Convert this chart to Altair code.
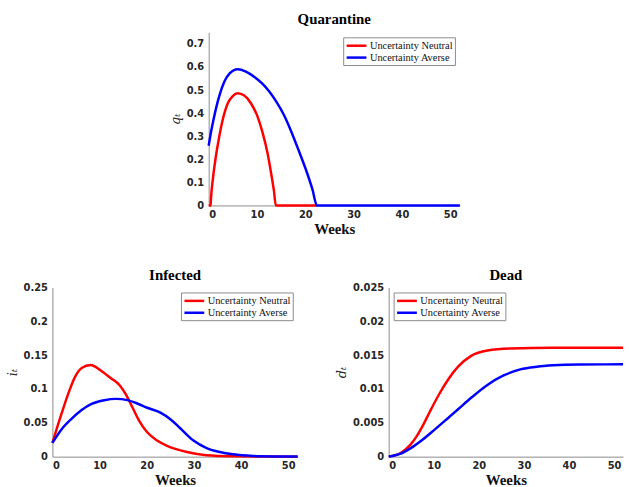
import altair as alt
import pandas as pd

SERIES = ["Uncertainty Neutral", "Uncertainty Averse"]
COLORS = ["#ff0000", "#0000ff"]

# Quarantine q_t
q_weeks_neutral = [0, 0.4, 0.45, 0.9, 1.4, 2.2, 2.9, 3.96, 4.98, 6.0, 7.37, 8.74, 10.1, 11.1, 12.2, 13.0, 13.5, 13.9, 22.4]
q_neutral = [0, 0, 0.02, 0.12, 0.2, 0.30, 0.371, 0.443, 0.474, 0.486, 0.476, 0.443, 0.386, 0.32, 0.225, 0.13, 0.065, 0, 0]
q_weeks_averse = [0, 0.5, 0.9, 1.57, 2.25, 3.28, 4.3, 6.0, 7.7, 9.4, 11.0, 12.5, 14.0, 15.5, 17.0, 18.6, 20.3, 21.5, 22.4, 52]
q_averse = [0.259, 0.32, 0.362, 0.425, 0.478, 0.538, 0.571, 0.590, 0.580, 0.558, 0.530, 0.495, 0.450, 0.395, 0.325, 0.240, 0.145, 0.068, 0, 0]

# Infected i_t
i_weeks_neutral = [0, 2.0, 3.4, 4.8, 6.2, 8.1, 10.3, 12.4, 14.2, 15.6, 17.0, 18.4, 20.1, 22.2, 24.3, 26.4, 28.5, 32.7, 38, 45, 52]
i_neutral = [0.0204, 0.065, 0.094, 0.118, 0.131, 0.1354, 0.127, 0.116, 0.106, 0.0917, 0.0723, 0.0529, 0.036, 0.0238, 0.016, 0.0107, 0.0068, 0.002, 0.0005, 0.0001, 0]
i_weeks_averse = [0, 2.0, 4.1, 6.2, 8.3, 11.0, 13.5, 15.9, 18.0, 20.1, 22.9, 25.0, 27.1, 29.9, 32.7, 35.5, 38.3, 42.5, 47, 52]
i_averse = [0.0204, 0.041, 0.0563, 0.069, 0.078, 0.0835, 0.0854, 0.0835, 0.0786, 0.0723, 0.065, 0.0553, 0.042, 0.0238, 0.0127, 0.0068, 0.0034, 0.001, 0.0003, 0.0001]

# Dead d_t
d_weeks_neutral = [0, 2.55, 4.74, 6.2, 7.66, 9.1, 11.0, 13.2, 15.4, 18.3, 21.9, 27.0, 36.5, 52]
d_neutral = [0, 0.0005, 0.0017, 0.0030, 0.0047, 0.0066, 0.0090, 0.0114, 0.0133, 0.0149, 0.0157, 0.0160, 0.0161, 0.0161]
d_weeks_averse = [0, 2.5, 5.0, 7.5, 10.2, 13.5, 15.4, 18.3, 21.9, 25.5, 29.2, 32.9, 36.5, 42.4, 52]
d_averse = [0, 0.0004, 0.0013, 0.0025, 0.0040, 0.0059, 0.0070, 0.0087, 0.0106, 0.0120, 0.0129, 0.0133, 0.0135, 0.01362, 0.01365]

x_ticks = [0, 10, 20, 30, 40, 50]
q_ticks = [0, 0.1, 0.2, 0.3, 0.4, 0.5, 0.6, 0.7]
i_ticks = [0, 0.05, 0.1, 0.15, 0.2, 0.25]
d_ticks = [0, 0.005, 0.01, 0.015, 0.02, 0.025]

LABEL_FONT = "DejaVu Sans"
SERIF = "Liberation Serif"


def frame(weeks, vals, name):
    return pd.DataFrame({"week": weeks, "value": vals, "series": name})


def panel(title, ytitle, dn, da, ymax, yticks, w, h, orient, title_offset):
    color = alt.Color(
        "series:N",
        scale=alt.Scale(domain=SERIES, range=COLORS),
        legend=alt.Legend(
            title=None, orient=orient, offset=5,
            strokeColor="#8c8c8c", fillColor="white", padding=2,
            labelFont=SERIF, labelFontSize=10.5, labelColor="#111111",
            symbolType="M-1,0H3", symbolSize=100, symbolStrokeWidth=2.5,
            labelOffset=12, rowPadding=-2, labelLimit=300, cornerRadius=0,
        ),
    )

    def line(df):
        return alt.Chart(df).mark_line(strokeWidth=2.5, interpolate="monotone").encode(
            x=alt.X("week:Q", scale=alt.Scale(domain=[0, 52], nice=False, zero=False),
                    axis=alt.Axis(values=x_ticks, title="Weeks", format="d")),
            y=alt.Y("value:Q", scale=alt.Scale(domain=[0, ymax], nice=False),
                    axis=alt.Axis(values=yticks, title=ytitle, format="~g")),
            color=color,
        )

    return alt.layer(line(dn), line(da)).properties(
        width=w, height=h,
        title=alt.TitleParams(title, font=SERIF, fontSize=15, fontWeight="bold", color="black",
                              offset=title_offset),
    )


top = panel("Quarantine", "qₜ",
            frame(q_weeks_neutral, q_neutral, SERIES[0]), frame(q_weeks_averse, q_averse, SERIES[1]),
            0.75, q_ticks, 254, 175, "top-right", 5)
left = panel("Infected", "iₜ",
             frame(i_weeks_neutral, i_neutral, SERIES[0]), frame(i_weeks_averse, i_averse, SERIES[1]),
             0.25, i_ticks, 248, 171, "top-right", 0)
right = panel("Dead", "dₜ",
              frame(d_weeks_neutral, d_neutral, SERIES[0]), frame(d_weeks_averse, d_averse, SERIES[1]),
              0.025, d_ticks, 237, 171, "top-left", 0)

spacer = alt.Chart(pd.DataFrame({"a": [0]})).mark_point(opacity=0).encode(
    x=alt.value(0), y=alt.value(0)
).properties(width=118, height=1)

top_row = alt.hconcat(spacer, top, spacing=0).resolve_scale(color="independent").resolve_legend(color="independent")
bottom = alt.hconcat(left, right, spacing=33).resolve_scale(color="independent").resolve_legend(color="independent")

chart = alt.vconcat(top_row, bottom, spacing=32).resolve_scale(
    color="independent").resolve_legend(color="independent").properties(
    padding={"left": 6, "top": 10, "right": 1, "bottom": 1},
    background="white",
).configure_view(stroke=None).configure_axis(
    labelFont=LABEL_FONT, labelFontSize=10, labelFontWeight="bold", labelColor="#262626",
    titleFont="DejaVu Serif", titleFontSize=14, titleFontWeight="normal", titleFontStyle="italic",
    titleColor="#262626", domainColor="#8c8c8c", ticks=False, grid=False, labelPadding=5,
    titlePadding=4,
).configure_axisX(
    titleFont=SERIF, titleFontSize=15, titleFontWeight="bold", titleFontStyle="normal",
    titleColor="#111111", labelPadding=4, titlePadding=2,
).configure_axisY(
    titleFontSize=13,
)

chart.save("out.html", embed_options={"renderer": "svg", "actions": False})
